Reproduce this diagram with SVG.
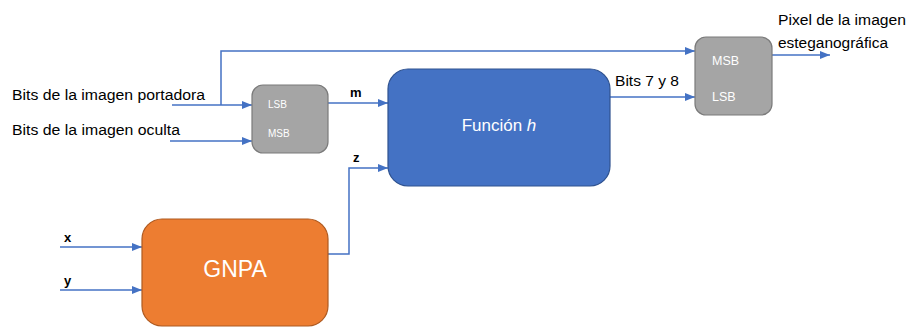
<svg xmlns="http://www.w3.org/2000/svg" width="906" height="327" viewBox="0 0 906 327">
  <defs>
    <marker id="arrow" markerWidth="10" markerHeight="8" refX="10" refY="4" orient="auto" markerUnits="userSpaceOnUse">
      <path d="M0,0 L10,4 L0,8 Z" fill="#4472c4"/>
    </marker>
    <style>
      .wire { fill: none; stroke: #4472c4; stroke-width: 1.5; }
      .lbl { font-family: "Liberation Sans", Arial, sans-serif; font-size: 14px; fill: #000; }
      .var { font-family: "Liberation Sans", Arial, sans-serif; font-size: 13px; font-weight: bold; fill: #000; }
      .gray { fill: #a5a5a5; stroke: #7b7b7b; stroke-width: 1.2; }
      .bitlbl { font-family: "Liberation Sans", Arial, sans-serif; fill: #fff; }
    </style>
  </defs>
  <rect width="906" height="327" fill="#fff"/>

  <!-- input and output labels -->
  <text class="lbl" x="12" y="100" textLength="193" lengthAdjust="spacingAndGlyphs">Bits de la imagen portadora</text>
  <text class="lbl" x="12" y="135" textLength="168" lengthAdjust="spacingAndGlyphs">Bits de la imagen oculta</text>
  <text class="var" x="64" y="242">x</text>
  <text class="var" x="64" y="285">y</text>
  <text class="var" x="350" y="97">m</text>
  <text class="var" x="353" y="162">z</text>
  <text class="lbl" x="615" y="86" textLength="64" lengthAdjust="spacingAndGlyphs">Bits 7 y 8</text>
  <text class="lbl" x="778" y="25" textLength="128" lengthAdjust="spacingAndGlyphs">Pixel de la imagen</text>
  <text class="lbl" x="778" y="48" textLength="110" lengthAdjust="spacingAndGlyphs">esteganográfica</text>

  <g id="connectors">
    <path class="wire" d="M172,105 H252" marker-end="url(#arrow)"/>
    <path class="wire" d="M170,141 H252" marker-end="url(#arrow)"/>
    <path class="wire" d="M221,105 V51 H695" marker-end="url(#arrow)"/>
    <path class="wire" d="M328,103 H388" marker-end="url(#arrow)"/>
    <path class="wire" d="M328,254 H349 V168 H388" marker-end="url(#arrow)"/>
    <path class="wire" d="M60,247 H142" marker-end="url(#arrow)"/>
    <path class="wire" d="M60,290 H142" marker-end="url(#arrow)"/>
    <path class="wire" d="M610,97 H695" marker-end="url(#arrow)"/>
    <path class="wire" d="M772,55 H830" marker-end="url(#arrow)"/>
  </g>

  <g id="mixer">
    <rect class="gray" x="252" y="85" width="76" height="68" rx="11"/>
    <text class="bitlbl" x="268" y="108" font-size="10">LSB</text>
    <text class="bitlbl" x="268" y="137" font-size="10">MSB</text>
  </g>

  <g id="funcion-h">
    <rect x="388" y="69" width="222" height="117" rx="20" fill="#4472c4" stroke="#2f528f" stroke-width="1.2"/>
    <text x="499" y="131" text-anchor="middle" font-family="Liberation Sans, Arial, sans-serif" font-size="17" fill="#fff">Función <tspan font-style="italic">h</tspan></text>
  </g>

  <g id="gnpa">
    <rect x="142" y="219" width="186" height="107" rx="20" fill="#ed7d31" stroke="#ae5a21" stroke-width="1.2"/>
    <text x="235" y="277" text-anchor="middle" font-family="Liberation Sans, Arial, sans-serif" font-size="23" fill="#fff">GNPA</text>
  </g>

  <g id="pixel">
    <rect class="gray" x="695" y="37" width="77" height="78" rx="11"/>
    <text class="bitlbl" x="712" y="65" font-size="12.5">MSB</text>
    <text class="bitlbl" x="712" y="101" font-size="12.5">LSB</text>
  </g>
</svg>
